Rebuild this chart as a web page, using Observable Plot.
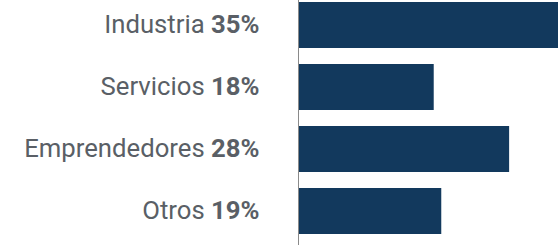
<!DOCTYPE html>
<html><head><meta charset="utf-8">
<script src="https://cdn.jsdelivr.net/npm/d3@7"></script>
<script src="https://cdn.jsdelivr.net/npm/@observablehq/plot@0.6"></script>
<style>body{margin:0;background:#fff;} svg{overflow:hidden}</style>
</head><body><div id="chart"></div>
<script>
const categories = ["Industria", "Servicios", "Emprendedores", "Otros"];
const values = [35, 18, 28, 19];
const data = categories.map((c, i) => ({category: c, value: values[i]}));

const plot = Plot.plot({
  width: 558, height: 245,
  marginLeft: 0, marginRight: 0, marginTop: 0, marginBottom: 0,
  style: {fontFamily: "Roboto", background: "#fff"},
  x: {domain: [0, 35], range: [298, 298 + 35 * 7.54], axis: null},
  y: {domain: categories, paddingInner: 0.258, paddingOuter: 0.032, insetBottom: 9, axis: null},
  marks: [
    Plot.barX(data, {y: "category", x: "value", fill: "#12395d"}),
    Plot.ruleX([0], {stroke: "#8a8a8a", strokeWidth: 1}),
    Plot.text(data, {y: "category", x: 0, dx: -39, dy: -1, text: d => `${d.category} ${d.value}%`, textAnchor: "end", fontSize: 25.7, fill: "#5a5f66"})
  ]
});
document.getElementById("chart").appendChild(plot);
d3.select(plot).selectAll('g[aria-label="text"] text').each(function() {
  const t = this.textContent;
  const i = t.lastIndexOf(" ");
  const sel = d3.select(this);
  sel.text(null);
  sel.append("tspan").text(t.slice(0, i + 1));
  sel.append("tspan").attr("font-weight", "bold").text(t.slice(i + 1));
});
</script></body></html>
